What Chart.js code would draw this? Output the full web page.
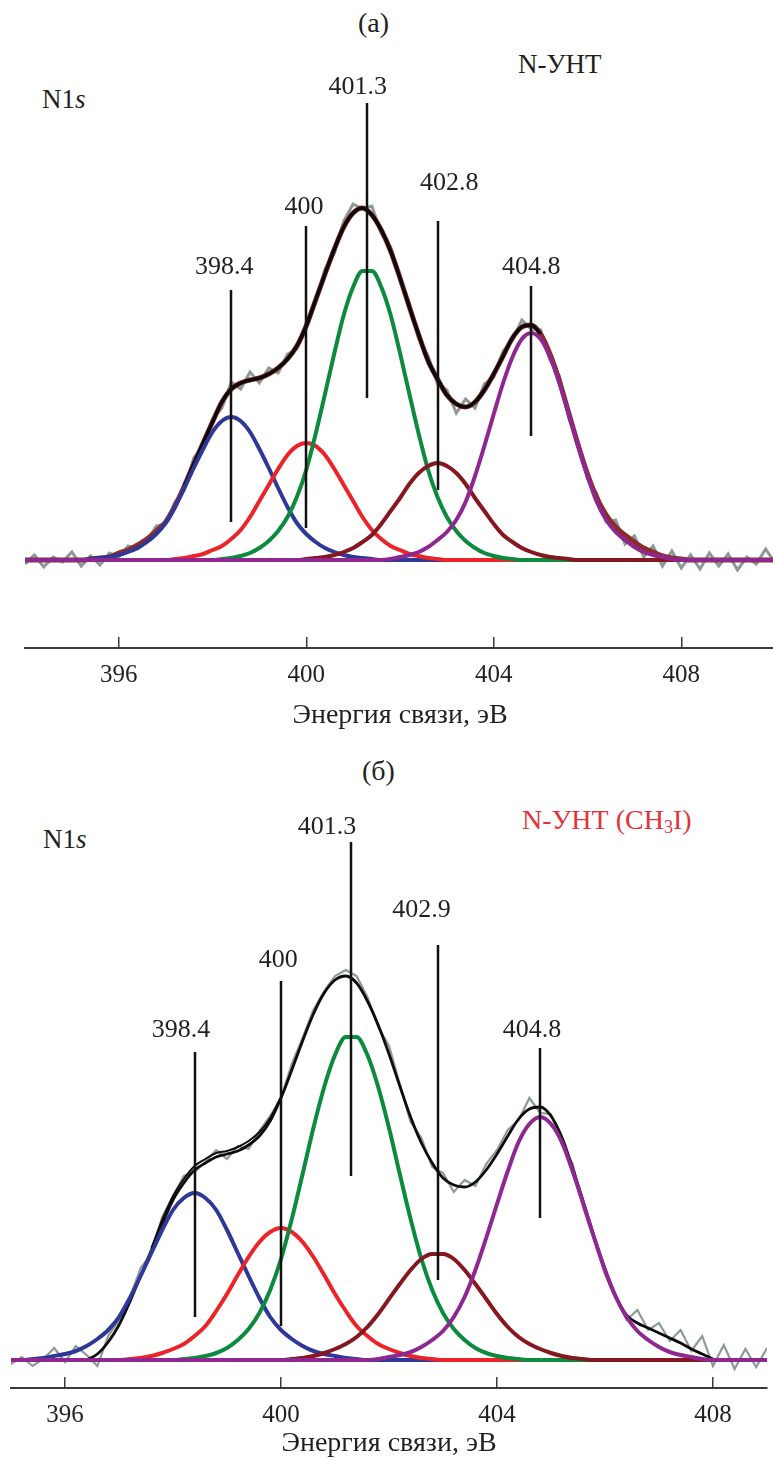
<!DOCTYPE html>
<html lang="ru">
<head>
<meta charset="utf-8">
<title>N1s XPS</title>
<script src="https://cdn.jsdelivr.net/npm/chart.js@4.4.1/dist/chart.umd.min.js"></script>
<style>
  body { margin: 0; background: #fff; }
  #page { position: relative; width: 773px; height: 1460px; overflow: hidden; background: #fff;
          font-family: "Liberation Serif", "Times New Roman", serif; color: #231f20; }
  canvas { position: absolute; left: 0; }
  .cap { position: absolute; font-size: 27px; line-height: 1; white-space: nowrap; }
  .red { color: #e2323c; font-size: 28px; }
  sub { font-size: 18px; vertical-align: -4px; line-height: 0; }
</style>
</head>
<body>
<div id="page">
  <div class="cap" style="left:358px; top:9px; font-size:28px;">(a)</div>
  <div class="cap" style="left:42px; top:86px;">N1<i>s</i></div>
  <div class="cap" style="left:518px; top:51px;">N-УНТ</div>
  <canvas id="chartA" width="780" height="735" style="top:0;"></canvas>

  <div class="cap" style="left:362px; top:757px; font-size:28px;">(б)</div>
  <div class="cap" style="left:43px; top:826px;">N1<i>s</i></div>
  <div class="cap red" style="left:522px; top:806px;">N-УНТ (CH<sub>3</sub>I)</div>
  <canvas id="chartB" width="773" height="720" style="top:740px;"></canvas>
</div>
<script>
// binding energy grid, eV
const energy = [
  394.0, 394.2, 394.4, 394.6, 394.8, 395.0, 395.2, 395.4, 395.6, 395.8,
  396.0, 396.2, 396.4, 396.6, 396.8, 397.0, 397.2, 397.4, 397.6, 397.8,
  398.0, 398.2, 398.4, 398.6, 398.8, 399.0, 399.2, 399.4, 399.6, 399.8,
  400.0, 400.2, 400.4, 400.6, 400.8, 401.0, 401.2, 401.4, 401.6, 401.8,
  402.0, 402.2, 402.4, 402.6, 402.8, 403.0, 403.2, 403.4, 403.6, 403.8,
  404.0, 404.2, 404.4, 404.6, 404.8, 405.0, 405.2, 405.4, 405.6, 405.8,
  406.0, 406.2, 406.4, 406.6, 406.8, 407.0, 407.2, 407.4, 407.6, 407.8,
  408.0, 408.2, 408.4, 408.6, 408.8, 409.0, 409.2, 409.4, 409.6, 409.8,
  410.0
];
const tickValues = [396, 400, 404, 408];

// ---- (a) N-УНТ ----
const rawA = [
  -4, 5, -7, 3, -2, 8, -6, 4, -5, 7,
  3, 14, 11, 19, 34, 36, 58, 70, 102, 114,
  141, 152, 178, 171, 188, 177, 192, 187, 206, 211,
  237, 257, 291, 307, 339, 356, 351, 354, 327, 313,
  279, 257, 221, 204, 176, 170, 147, 161, 152, 176,
  183, 209, 220, 240, 231, 230, 200, 184, 142, 118,
  81, 66, 38, 40, 16, 24, 3, 14, -6, 9,
  -8, 5, -9, 7, -6, 6, -10, 3, -4, 11,
  -3
];
const sumA = [
  0, 0, 0, 0, 0, 0, 0, 1, 2, 3,
  7, 10, 15, 21, 29, 38, 54, 74, 96, 117,
  138, 158, 171, 177, 180, 182, 186, 192, 201, 214,
  234, 260, 286, 311, 333, 347, 352, 345, 330, 309,
  282, 253, 225, 199, 181, 165, 156, 153, 158, 170,
  186, 204, 222, 233, 235, 226, 206, 179, 147, 115,
  86, 62, 45, 33, 25, 18, 12, 8, 4, 2,
  1, 0, 0, 0, 0, 0, 0, 0, 0, 0,
  0
];
const fitA = [
  null, null, null, null, null, null, null, null, null, null,
  null, null, null, null, null, null, null, 74, 96, 117,
  138, 158, 171, 177, 180, 182, 186, 192, 201, 214,
  234, 260, 286, 311, 333, 347, 352, 345, 330, 309,
  282, 253, 225, 199, 181, 165, 156, 153, 158, 170,
  186, 204, 222, 233, 235, 226, null, null, null, null,
  null, null, null, null, null, null, null, null, null, null,
  null, null, null, null, null, null, null, null, null, null,
  null
];
const blueA = [
  0, 0, 0, 0, 0, 0, 0, 1, 2, 3,
  5, 8, 12, 18, 26, 37, 53, 72, 92, 111,
  128, 139, 143, 139, 128, 111, 92, 72, 53, 37,
  26, 18, 12, 8, 5, 3, 2, 1, 0, 0,
  0, 0, 0, 0, 0, 0, 0, 0, 0, 0,
  0, 0, 0, 0, 0, 0, 0, 0, 0, 0,
  0, 0, 0, 0, 0, 0, 0, 0, 0, 0,
  0, 0, 0, 0, 0, 0, 0, 0, 0, 0,
  0
];
const redA = [
  0, 0, 0, 0, 0, 0, 0, 0, 0, 0,
  0, 0, 0, 0, 0, 0, 1, 2, 4, 6,
  10, 14, 21, 30, 43, 59, 75, 91, 105, 114,
  117, 114, 105, 91, 75, 59, 43, 30, 21, 14,
  10, 6, 4, 2, 1, 0, 0, 0, 0, 0,
  0, 0, 0, 0, 0, 0, 0, 0, 0, 0,
  0, 0, 0, 0, 0, 0, 0, 0, 0, 0,
  0, 0, 0, 0, 0, 0, 0, 0, 0, 0,
  0
];
const greenA = [
  0, 0, 0, 0, 0, 0, 0, 0, 0, 0,
  0, 0, 0, 0, 0, 0, 0, 0, 0, 0,
  0, 1, 2, 4, 7, 12, 19, 29, 43, 63,
  90, 126, 166, 207, 245, 273, 289, 289, 273, 245,
  207, 166, 126, 90, 63, 43, 29, 19, 12, 7,
  4, 2, 1, 0, 0, 0, 0, 0, 0, 0,
  0, 0, 0, 0, 0, 0, 0, 0, 0, 0,
  0, 0, 0, 0, 0, 0, 0, 0, 0, 0,
  0
];
const brownA = [
  0, 0, 0, 0, 0, 0, 0, 0, 0, 0,
  0, 0, 0, 0, 0, 0, 0, 0, 0, 0,
  0, 0, 0, 0, 0, 0, 0, 0, 0, 0,
  1, 2, 3, 5, 8, 12, 18, 25, 36, 49,
  62, 76, 87, 94, 97, 94, 87, 76, 62, 49,
  36, 25, 18, 12, 8, 5, 3, 2, 1, 0,
  0, 0, 0, 0, 0, 0, 0, 0, 0, 0,
  0, 0, 0, 0, 0, 0, 0, 0, 0, 0,
  0
];
const purpleA = [
  0, 0, 0, 0, 0, 0, 0, 0, 0, 0,
  0, 0, 0, 0, 0, 0, 0, 0, 0, 0,
  0, 0, 0, 0, 0, 0, 0, 0, 0, 0,
  0, 0, 0, 0, 0, 0, 0, 0, 0, 1,
  3, 5, 8, 13, 20, 28, 40, 58, 84, 114,
  146, 177, 203, 221, 227, 221, 203, 177, 146, 114,
  84, 58, 40, 28, 20, 13, 8, 5, 3, 1,
  0, 0, 0, 0, 0, 0, 0, 0, 0, 0,
  0
];
const peaksA = [398.4, 400, 401.3, 402.8, 404.8];
const markTopA = [270, 334, 457, 339, 274];
const markBottomA = [38, 32, 162, 70, 124];
const labelXA = [398.25, 399.95, 401.1, 403.05, 404.8];
const labelYA = [293, 353, 473, 377, 293];

// ---- (б) N-УНТ (CH3I) ----
const rawB = [
  2, -5, 4, -3, 6, -4, 3, -6, 1, 12,
  -2, 14, 5, -6, 24, 40, 62, 92, 106, 143,
  163, 184, 188, 198, 210, 201, 214, 211, 229, 244,
  262, 296, 322, 350, 369, 384, 390, 384, 363, 333,
  314, 276, 238, 222, 193, 187, 168, 180, 174, 196,
  210, 230, 240, 262, 247, 246, 216, 196, 152, 120,
  86, 62, 40, 50, 30, 37, 19, 30, 9, 24,
  -6, 15, -9, 11, -7, 12, -4, 3, 0, 2,
  -2
];
const fitB = [
  null, null, null, null, null, null, null, null, null, null,
  null, null, 0, 6, 18, 35, 58, 84, 110, 136,
  160, 177, 190, 197, 203, 206, 209, 215, 224, 239,
  262, 290, 319, 346, 367, 380, 384, 377, 359, 335,
  306, 274, 243, 217, 197, 182, 175, 173, 178, 190,
  206, 224, 241, 251, 253, 244, 223, 192, 158, 123,
  91, 64, 45, 37, 32, 27, 22, 17, 11, 6,
  1, null, null, null, null, null, null, null, null, null,
  null
];
const sumB = [
  null, null, null, null, null, null, null, null, null, null,
  null, null, null, null, null, null, null, null, 112, 140,
  164, 181, 194, 201, 207, 209, 213, 219, 228, 242,
  263, null, null, null, null, null, null, null, null, null,
  null, null, null, null, null, null, null, null, null, null,
  null, null, null, null, null, null, null, null, null, null,
  null, null, null, null, null, null, null, null, null, null,
  null, null, null, null, null, null, null, null, null, null,
  null
];
const blueB = [
  0, 0, 0, 0, 0, 0, 0, 1, 2, 4,
  6, 9, 14, 21, 30, 43, 62, 84, 107, 130,
  150, 162, 167, 162, 150, 130, 107, 84, 62, 43,
  30, 21, 14, 9, 6, 4, 2, 1, 0, 0,
  0, 0, 0, 0, 0, 0, 0, 0, 0, 0,
  0, 0, 0, 0, 0, 0, 0, 0, 0, 0,
  0, 0, 0, 0, 0, 0, 0, 0, 0, 0,
  0, 0, 0, 0, 0, 0, 0, 0, 0, 0,
  0
];
const redB = [
  0, 0, 0, 0, 0, 0, 0, 0, 0, 0,
  0, 0, 0, 0, 0, 0, 1, 2, 4, 7,
  11, 16, 24, 34, 49, 66, 85, 103, 118, 128,
  132, 128, 118, 103, 85, 66, 49, 34, 24, 16,
  11, 7, 4, 2, 1, 0, 0, 0, 0, 0,
  0, 0, 0, 0, 0, 0, 0, 0, 0, 0,
  0, 0, 0, 0, 0, 0, 0, 0, 0, 0,
  0, 0, 0, 0, 0, 0, 0, 0, 0, 0,
  0
];
const greenB = [
  0, 0, 0, 0, 0, 0, 0, 0, 0, 0,
  0, 0, 0, 0, 0, 0, 0, 0, 0, 0,
  0, 1, 2, 4, 7, 12, 20, 31, 47, 70,
  101, 141, 186, 232, 273, 305, 323, 323, 305, 273,
  232, 186, 141, 101, 70, 47, 31, 20, 12, 7,
  4, 2, 1, 0, 0, 0, 0, 0, 0, 0,
  0, 0, 0, 0, 0, 0, 0, 0, 0, 0,
  0, 0, 0, 0, 0, 0, 0, 0, 0, 0,
  0
];
const brownB = [
  0, 0, 0, 0, 0, 0, 0, 0, 0, 0,
  0, 0, 0, 0, 0, 0, 0, 0, 0, 0,
  0, 0, 0, 0, 0, 0, 0, 0, 0, 0,
  0, 1, 2, 4, 7, 11, 16, 23, 33, 46,
  61, 76, 90, 101, 106, 106, 101, 90, 76, 61,
  46, 33, 23, 16, 11, 7, 4, 2, 1, 0,
  0, 0, 0, 0, 0, 0, 0, 0, 0, 0,
  0, 0, 0, 0, 0, 0, 0, 0, 0, 0,
  0
];
const purpleB = [
  0, 0, 0, 0, 0, 0, 0, 0, 0, 0,
  0, 0, 0, 0, 0, 0, 0, 0, 0, 0,
  0, 0, 0, 0, 0, 0, 0, 0, 0, 0,
  0, 0, 0, 0, 0, 0, 0, 0, 0, 1,
  3, 5, 8, 13, 20, 29, 43, 63, 90, 122,
  156, 189, 218, 236, 243, 236, 218, 189, 156, 122,
  90, 63, 43, 29, 20, 13, 8, 5, 3, 1,
  0, 0, 0, 0, 0, 0, 0, 0, 0, 0,
  0
];
const peaksB = [398.4, 400, 401.3, 402.9, 404.8];
const markTopB = [308, 379, 518, 415, 312];
const markBottomB = [43, 34, 184, 80, 142];
const labelXB = [398.15, 399.95, 400.85, 402.6, 404.65];
const labelYB = [330, 400, 533, 450, 330];

const SERIF = '"Liberation Serif", "Times New Roman", serif';
const INK = '#231f20';

// vertical peak markers with their energy written above
const peakMarks = {
  id: 'peakMarks',
  afterDatasetsDraw(chart, args, opts) {
    const { ctx } = chart;
    const x = chart.scales.x, y = chart.scales.y;
    ctx.save();
    ctx.strokeStyle = '#111';
    ctx.lineWidth = 2.5;
    ctx.fillStyle = INK;
    ctx.font = '26px ' + SERIF;
    ctx.textAlign = 'center';
    ctx.textBaseline = 'middle';
    opts.positions.forEach((e, i) => {
      const px = Math.round(x.getPixelForValue(e));
      ctx.beginPath();
      ctx.moveTo(px, y.getPixelForValue(opts.tops[i]));
      ctx.lineTo(px, y.getPixelForValue(opts.bottoms[i]));
      ctx.stroke();
      ctx.fillText(String(e), x.getPixelForValue(opts.labelX[i]), y.getPixelForValue(opts.labelY[i]));
    });
    ctx.restore();
  }
};

function curve(values, color, width, smooth) {
  return {
    data: energy.map((e, i) => ({ x: e, y: values[i] })),
    borderColor: color,
    borderWidth: width,
    pointRadius: 0,
    fill: false,
    spanGaps: false,
    tension: 0,
    cubicInterpolationMode: smooth ? 'monotone' : 'default'
  };
}

function spectrum(id, cfg) {
  return new Chart(document.getElementById(id), {
    type: 'line',
    data: { datasets: cfg.datasets },
    plugins: [peakMarks],
    options: {
      responsive: false,
      animation: false,
      devicePixelRatio: 1,
      events: [],
      layout: { padding: cfg.padding },
      plugins: {
        legend: { display: false },
        tooltip: { enabled: false },
        peakMarks: cfg.marks
      },
      scales: {
        x: {
          type: 'linear',
          min: cfg.xMin,
          max: cfg.xMax,
          afterBuildTicks: (axis) => { axis.ticks = tickValues.map(v => ({ value: v })); },
          afterFit: (axis) => { axis.height = cfg.axisHeight; },
          border: { display: true, color: '#3a3a3a', width: 2 },
          grid: { display: true, drawOnChartArea: false, drawTicks: true, tickLength: -11,
                  color: '#3a3a3a', lineWidth: 1.5 },
          ticks: { padding: 23, color: INK, autoSkip: false, maxRotation: 0,
                   font: { family: SERIF, size: 25 }, callback: v => String(v) },
          title: { display: true, text: 'Энергия связи, эВ', color: INK,
                   font: { family: SERIF, size: 28 }, padding: cfg.titlePad }
        },
        y: { display: false, min: cfg.yMin, max: cfg.yMax }
      }
    }
  });
}

// (a)
spectrum('chartA', {
  xMin: 394, xMax: 410, yMin: -88, yMax: 540,
  padding: { top: 20, left: 25, right: 5, bottom: 0 },
  axisHeight: 87,
  titlePad: { top: 0, bottom: 3 },
  marks: { positions: peaksA, tops: markTopA, bottoms: markBottomA, labelX: labelXA, labelY: labelYA },
  datasets: [
    curve(purpleA, '#8e278f', 4, true),
    curve(brownA, '#86161f', 4, true),
    curve(greenA, '#0c8a3e', 4, true),
    curve(redA, '#ec2429', 4, true),
    curve(blueA, '#2d3899', 4, true),
    curve(fitA, '#0a0a0a', 3.5, true),
    curve(sumA, '#8c2a2c', 5, true),
    curve(rawA, '#8c9996', 3, false)
  ]
});

// (б)
spectrum('chartB', {
  xMin: 395, xMax: 409, yMin: -28, yMax: 600,
  padding: { top: 20, left: 11, right: 6, bottom: 0 },
  axisHeight: 72,
  titlePad: { top: 0, bottom: 0 },
  marks: { positions: peaksB, tops: markTopB, bottoms: markBottomB, labelX: labelXB, labelY: labelYB },
  datasets: [
    curve(purpleB, '#8e278f', 4, true),
    curve(brownB, '#86161f', 4, true),
    curve(greenB, '#0c8a3e', 4, true),
    curve(redB, '#ec2429', 4, true),
    curve(blueB, '#2d3899', 4, true),
    curve(fitB, '#0d0d0d', 2.8, true),
    curve(sumB, '#0d0d0d', 2, true),
    curve(rawB, '#8c9996', 2.2, false)
  ]
});
</script>
</body>
</html>
